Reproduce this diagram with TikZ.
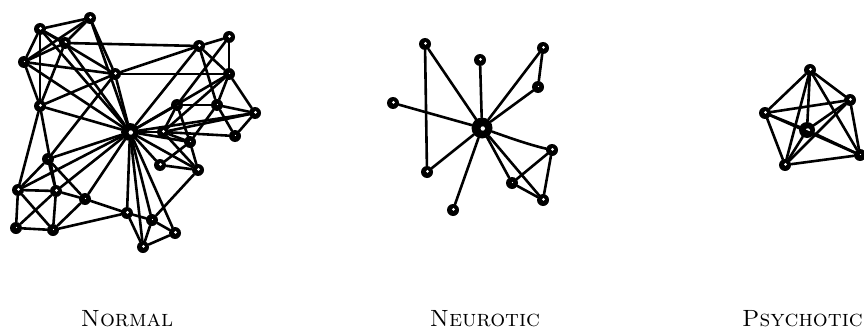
\documentclass[tikz,border=0pt]{standalone}
\begin{document}
\begin{tikzpicture}[x=1pt,y=-1pt,
  nd/.style={circle,fill=black,inner sep=0pt,minimum size=12pt,
    path picture={\fill[white] ([shift={(0.5pt,0.7pt)}]path picture bounding box.center) circle (1.5pt);}},
  ndf/.style={circle,fill=black,inner sep=0pt,minimum size=12pt,
    path picture={\fill[white] ([shift={(0.5pt,0.5pt)}]path picture bounding box.center) circle (0.7pt);}},
  hub/.style={circle,fill=black,inner sep=0pt,minimum size=18pt,
    path picture={\fill[white] ([shift={(0.8pt,-0.5pt)}]path picture bounding box.center) circle (2.2pt);}},
  edge/.style={line width=2.6pt,line cap=round},
  lab/.style={font=\fontsize{23.5}{26}\selectfont,anchor=base}]
\useasboundingbox (0,0) rectangle (864,329);
% ---------------- NORMAL ----------------
\node[nd] (A) at (40,29) {};
\node[nd] (B) at (90,18) {};
\node[nd] (C) at (65,43) {};
\node[ndf] (D) at (24,62) {};
\node[nd] (E) at (115,74) {};
\node[nd] (F) at (40,106) {};
\node[hub] (G) at (130,132) {};
\node[nd] (H) at (199,46) {};
\node[nd] (I) at (229,37) {};
\node[ndf] (J) at (229,74) {};
\node[ndf] (K) at (217,105) {};
\node[nd] (L) at (255,113) {};
\node[ndf] (M) at (235,136) {};
\node[nd] (N) at (177,105) {};
\node[nd] (O) at (163,132) {};
\node[ndf] (P) at (190,142) {};
\node[nd] (Q) at (160,165) {};
\node[nd] (R) at (198,170) {};
\node[ndf] (S) at (48,159) {};
\node[nd] (T) at (18,190) {};
\node[nd] (U) at (56,191) {};
\node[ndf] (V) at (85,199) {};
\node[ndf] (W) at (16,228) {};
\node[ndf] (X) at (53,230) {};
\node[nd] (Y) at (127,213) {};
\node[ndf] (Z) at (152,220) {};
\node[nd] (AA) at (175,233) {};
\node[nd] (AB) at (143,247) {};
\foreach \a/\b in {A/B,A/C,A/D,A/F,A/G,A/E,B/C,B/D,B/E,B/G,C/H,C/D,C/F,C/G,
  D/E,D/G,D/F,E/H,E/G,E/F,E/J,E/S,F/G,F/T,F/U,
  G/H,G/J,G/L,G/N,G/O,G/P,G/Q,G/R,G/S,G/T,G/U,G/V,G/Y,G/Z,G/AA,G/AB,
  H/I,H/J,H/K,I/J,I/N,J/K,J/L,J/O,K/L,K/M,K/N,K/P,L/O,L/M,
  N/O,N/P,O/P,O/R,O/M,P/R,P/Q,Q/R,R/Z,
  S/T,S/U,S/V,T/U,T/W,T/X,U/V,U/W,U/X,V/X,V/Y,W/X,X/Y,
  Y/Z,Y/AB,Z/AA,Z/AB,AA/AB}
  \draw[edge] (\a) -- (\b);
% ---------------- NEUROTIC ----------------
\node[nd] (n1) at (425,44) {};
\node[nd] (n2) at (480,60) {};
\node[nd] (n3) at (543,48) {};
\node[ndf] (n4) at (538,87) {};
\node[nd] (n5) at (393,103) {};
\node[hub,minimum size=21pt] (nh) at (482,128) {};
\node[nd] (n6) at (427,172) {};
\node[nd] (n7) at (552,150) {};
\node[ndf] (n8) at (512,183) {};
\node[nd] (n9) at (543,200) {};
\node[nd] (n10) at (453,210) {};
\foreach \a/\b in {n1/nh,n1/n6,n2/nh,n3/nh,n3/n4,n4/nh,n5/nh,n6/nh,n10/nh,
  nh/n8,nh/n9,n7/n8,n7/n9,n8/n9}
  \draw[edge] (\a) -- (\b);
\draw[edge] (nh) .. controls (510,138) and (530,145) .. (n7);
% ---------------- PSYCHOTIC ----------------
\node[nd] (p1) at (810,70) {};
\node[nd] (p2) at (850,100) {};
\node[nd] (p3) at (765,113) {};
\node[hub,minimum size=16pt] (p4) at (807,130) {};
\node[nd] (p5) at (785,165) {};
\node[ndf] (p6) at (860,155) {};
\foreach \a/\b in {p1/p2,p1/p3,p1/p4,p1/p5,p1/p6,p2/p3,p2/p4,p2/p5,p2/p6,
  p3/p4,p3/p5,p3/p6,p4/p5,p4/p6,p5/p6}
  \draw[edge] (\a) -- (\b);
% ---------------- LABELS ----------------
\node[lab] (l1) at (127,326) {\textsc{Normal}};
\node[lab] (l2) at (485,326) {\textsc{Neurotic}};
\node[lab,anchor=base east,inner xsep=0pt] (l3) at (863,326) {\textsc{Psychotic}};
\end{tikzpicture}
\end{document}
